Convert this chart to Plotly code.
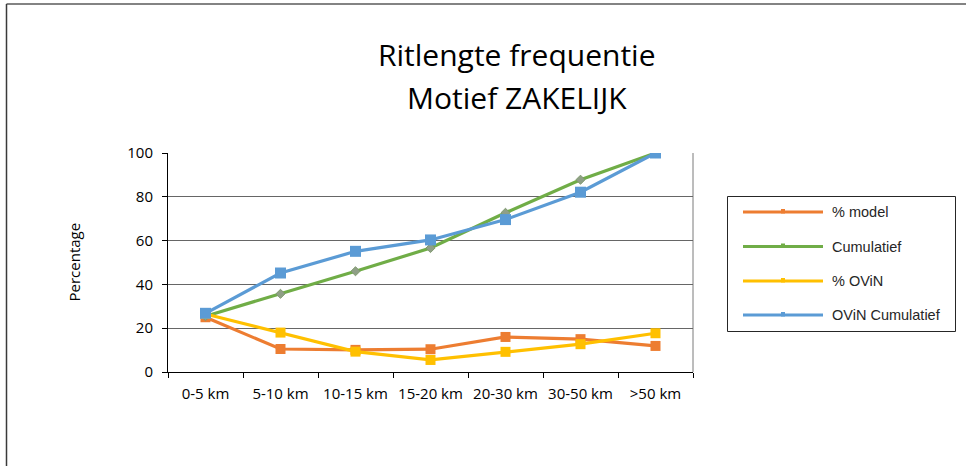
import plotly.graph_objects as go

categories = ["0-5 km", "5-10 km", "10-15 km", "15-20 km", "20-30 km", "30-50 km", ">50 km"]
pct_model = [25.0, 10.5, 10.1, 10.4, 16.0, 15.0, 11.9]
cumulatief = [25.5, 35.7, 46.0, 56.6, 72.7, 87.8, 100.0]
pct_ovin = [26.5, 18.0, 9.3, 5.5, 9.2, 12.7, 17.7]
ovin_cumulatief = [26.8, 45.2, 55.1, 60.3, 69.6, 82.1, 100.0]
y_ticks = [0, 20, 40, 60, 80, 100]

series_names = ["% model", "Cumulatief", "% OViN", "OViN Cumulatief"]
series_values = [pct_model, cumulatief, pct_ovin, ovin_cumulatief]
colors = ["#ED7D31", "#70AD47", "#FFC000", "#5B9BD5"]
symbols = ["square", "diamond", "square", "square"]
msizes = [10, 7, 10, 11]

W, H = 969, 466
L, R, T, B = 168, 693, 153, 372  # plot area pixels

def px(x):
    return (x - L) / (R - L)

def py(y):
    return (B - y) / (B - T)

fig = go.Figure()
for name, vals, c, s, ms in zip(series_names, series_values, colors, symbols, msizes):
    if s == "diamond":
        mk = dict(symbol=s, size=ms, color="#8f9f86", line=dict(width=1, color="#7f9a6e"))
    else:
        mk = dict(symbol=s, size=ms, color=c, line=dict(width=0))
    fig.add_trace(go.Scatter(
        x=categories, y=vals, name=name, mode="lines+markers",
        line=dict(color=c, width=3.2),
        marker=mk,
        showlegend=False,
    ))

shapes = []
annotations = []
# outer frame (top and left)
shapes.append(dict(type="line", xref="paper", yref="paper", x0=px(6.5), x1=px(966), y0=py(4), y1=py(4),
                   line=dict(color="#5a5a5a", width=1.5)))
shapes.append(dict(type="line", xref="paper", yref="paper", x0=px(6.5), x1=px(6.5), y0=py(4), y1=py(466),
                   line=dict(color="#3a3a3a", width=1.5)))
# plot-area right border (grey)
shapes.append(dict(type="line", xref="paper", yref="paper", x0=1, x1=1, y0=0, y1=1, layer="below",
                   line=dict(color="#7a7a7a", width=1)))

# custom legend
shapes.append(dict(type="rect", xref="paper", yref="paper", x0=px(727.5), x1=px(955.5), y0=py(331.5), y1=py(196.5),
                   line=dict(color="#262626", width=1), fillcolor="white"))
leg_y = [212, 246.5, 281, 315]
for name, c, yy in zip(series_names, colors, leg_y):
    shapes.append(dict(type="line", xref="paper", yref="paper", x0=px(743), x1=px(823), y0=py(yy), y1=py(yy),
                       line=dict(color=c, width=3)))
    shapes.append(dict(type="rect", xref="paper", yref="paper", x0=px(781), x1=px(785), y0=py(yy + 1.5), y1=py(yy - 3),
                       line=dict(width=0), fillcolor=c))
    annotations.append(dict(text=name, xref="paper", yref="paper", x=px(830), y=py(yy), xanchor="left",
                            yanchor="middle", showarrow=False,
                            font=dict(family="Liberation Sans, Arial", size=14.5, color="#262626")))

# title
for txt, yy in [("Ritlengte frequentie", 55), ("Motief ZAKELIJK", 97)]:
    annotations.append(dict(text=txt, xref="paper", yref="paper", x=px(517), y=py(yy), xanchor="center",
                            yanchor="middle", showarrow=False,
                            font=dict(family="Open Sans", size=30, color="#000000")))

# y axis title
annotations.append(dict(text="Percentage", xref="paper", yref="paper", x=px(73), y=py(262.5), xanchor="center",
                        yanchor="middle", textangle=-90, showarrow=False,
                        font=dict(family="Open Sans", size=15, color="#000000")))

fig.update_layout(
    width=W, height=H,
    margin=dict(l=L, r=W - R, t=T, b=H - B, pad=0),
    paper_bgcolor="white", plot_bgcolor="white",
    shapes=shapes, annotations=annotations,
    font=dict(family="Open Sans", size=15, color="#000000"),
    showlegend=False,
)
fig.update_xaxes(
    type="category", range=[-0.5, 6.5], showgrid=False,
    showline=True, linecolor="#000000", linewidth=1, mirror=False,
    ticks="outside", tickson="boundaries", ticklen=5, tickcolor="#000000",
    ticklabelstandoff=8,
    tickfont=dict(family="Open Sans", size=15, color="#000000"),
)
fig.update_yaxes(
    range=[0, 100], tickvals=y_ticks, showgrid=True, gridcolor="#666666", gridwidth=1,
    showline=True, linecolor="#000000", linewidth=1, mirror=False, zeroline=False,
    ticks="outside", ticklen=5, tickcolor="#000000",
    ticklabelstandoff=6,
    tickfont=dict(family="Open Sans", size=15, color="#000000"),
)

fig.write_html("out.html", config={"displayModeBar": False},
               post_script="document.body.style.margin='0';document.body.style.overflow='hidden';")
